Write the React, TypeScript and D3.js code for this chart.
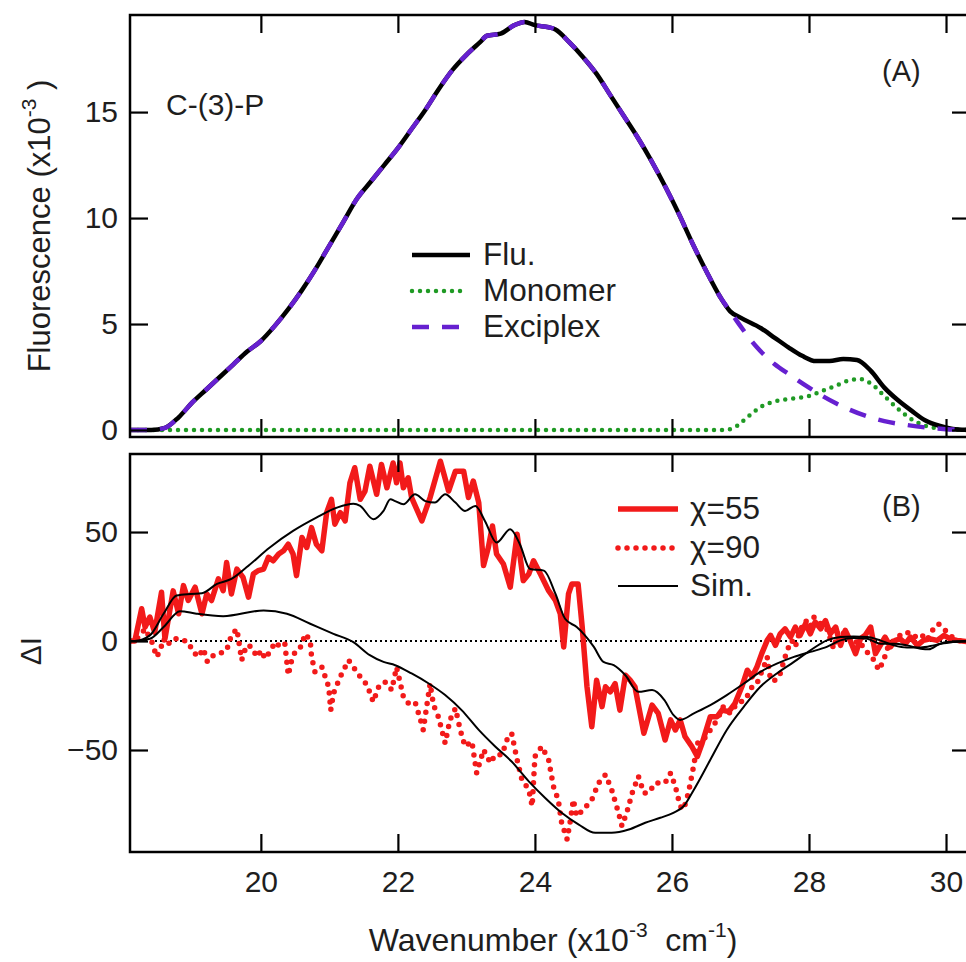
import React, { useRef, useEffect } from 'react';
import * as d3 from 'd3';

type Pt = [number, number];

// panel (A): fluorescence, x10^-3
const flu: Pt[] = [
  [18.09, 0], [18.4, 0], [18.6, 0.1], [18.8, 0.6], [19.0, 1.3], [19.2, 1.9], [19.4, 2.5], [19.6, 3.1],
  [19.8, 3.7], [20.0, 4.2], [20.2, 4.9], [20.4, 5.7], [20.6, 6.6], [20.8, 7.6], [21.0, 8.7], [21.2, 9.8],
  [21.4, 10.9], [21.6, 11.7], [21.8, 12.5], [22.0, 13.3], [22.2, 14.2], [22.4, 15.1], [22.6, 16.1],
  [22.8, 17.0], [23.0, 17.7], [23.2, 18.3], [23.3, 18.6], [23.5, 18.7], [23.7, 19.1], [23.85, 19.25],
  [24.0, 19.1], [24.2, 19.0], [24.3, 18.9], [24.5, 18.3], [24.7, 17.6], [24.9, 16.8], [25.1, 15.8],
  [25.3, 14.8], [25.5, 13.8], [25.7, 12.7], [25.9, 11.5], [26.1, 10.2], [26.3, 8.8], [26.5, 7.5],
  [26.7, 6.3], [26.85, 5.6], [27.0, 5.3], [27.3, 4.8], [27.5, 4.35], [27.7, 3.9], [27.9, 3.5],
  [28.1, 3.25], [28.3, 3.25], [28.5, 3.35], [28.7, 3.3], [28.9, 2.8], [29.1, 2.0], [29.3, 1.4],
  [29.5, 0.9], [29.7, 0.45], [29.9, 0.2], [30.1, 0.05], [30.35, 0],
];

const monomer: Pt[] = [
  [18.09, 0], [26.75, 0], [26.9, 0.1], [27.1, 0.6], [27.3, 1.1], [27.5, 1.35], [27.8, 1.5], [28.0, 1.6],
  [28.2, 1.85], [28.4, 2.1], [28.6, 2.35], [28.75, 2.4], [28.9, 2.2], [29.1, 1.6], [29.3, 1.0],
  [29.5, 0.5], [29.7, 0.2], [29.9, 0.08], [30.35, 0],
];

const exciplexTail: Pt[] = [
  [27.0, 4.9], [27.24, 3.9], [27.5, 3.1], [27.7, 2.65], [28.0, 2.0], [28.2, 1.6], [28.4, 1.25],
  [28.6, 0.95], [28.8, 0.7], [29.1, 0.42], [29.4, 0.25], [29.7, 0.12], [30.0, 0.04], [30.35, 0],
];
const exciplex: Pt[] = flu.filter((d) => d[0] <= 26.85).concat(exciplexTail);

// panel (B): delta I
const chi55: Pt[] = [
  [18.09, 0], [18.16, 0], [18.26, 14.8], [18.31, 6.4], [18.38, 11], [18.45, 4], [18.55, 22.4], [18.6, 1],
  [18.72, 23], [18.8, 12.5], [18.87, 25.4], [18.94, 18.6], [19.04, 24.7], [19.14, 12.5], [19.21, 21.6],
  [19.28, 18.6], [19.38, 28.5], [19.45, 23.1], [19.5, 36], [19.57, 21.6], [19.65, 33], [19.74, 29.2],
  [19.82, 20.1], [19.89, 30.7], [19.96, 32.3], [20.04, 33], [20.11, 38.4], [20.18, 36.8], [20.26, 39.9],
  [20.33, 41.4], [20.4, 44.4], [20.47, 39.9], [20.52, 30], [20.6, 47.5], [20.67, 42.9], [20.74, 52],
  [20.81, 44.4], [20.89, 41.4], [20.96, 58.9], [21.03, 65], [21.08, 53.6], [21.16, 58.9], [21.23, 55.1],
  [21.3, 72.6], [21.37, 79.5], [21.45, 65], [21.52, 68.8], [21.59, 80.2], [21.69, 67.3], [21.76, 81],
  [21.84, 70.3], [21.93, 81.7], [21.98, 72.6], [22.03, 81.7], [22.08, 70.3], [22.15, 74.9], [22.2, 65.8],
  [22.35, 55.1], [22.47, 65.8], [22.62, 82.5], [22.74, 68.8], [22.84, 77.9], [22.96, 77.9], [23.03, 65.8],
  [23.1, 73.4], [23.18, 63.5], [23.25, 34.6], [23.32, 42.9], [23.38, 52.8], [23.44, 39.9], [23.54, 35.3],
  [23.64, 24.7], [23.74, 49], [23.83, 27.7], [23.91, 30.7], [23.98, 36.8], [24.08, 30.7], [24.2, 23.1],
  [24.3, 18.6], [24.37, 12.5], [24.42, -2.7], [24.49, 21.6], [24.54, 26.2], [24.63, 26.2], [24.69, 6.4],
  [24.76, -21], [24.83, -39.3], [24.9, -18], [24.98, -30.1], [25.03, -21], [25.1, -23.3], [25.17, -19.5],
  [25.24, -31.7], [25.32, -15.7], [25.39, -18], [25.46, -21], [25.59, -42.3], [25.71, -29.4], [25.8, -33.2],
  [25.9, -45.4], [25.98, -36.2], [26.05, -40.8], [26.12, -36.2], [26.19, -43.8], [26.29, -48.4],
  [26.37, -53], [26.44, -46.9], [26.56, -34.7], [26.66, -34.7], [26.73, -31.7], [26.83, -32.4],
  [26.92, -28.6], [27.02, -21], [27.1, -13.4], [27.17, -16.4], [27.24, -11.9], [27.31, -5.8], [27.39, 0.3],
  [27.44, 2.6], [27.51, -2], [27.58, 3.3], [27.65, 5.6], [27.73, 1.8], [27.8, 6.4], [27.87, 2.6],
  [27.95, 7.9], [28.02, 3.3], [28.09, 8.7], [28.17, 5.6], [28.24, 9.4], [28.31, 3.3], [28.39, 6.4],
  [28.46, -2], [28.53, 4.9], [28.6, 0.3], [28.68, -5.8], [28.75, 1], [28.82, 2.6], [28.9, 6.4],
  [28.97, -5.8], [29.04, -2], [29.11, 1.8], [29.19, -2.7], [29.26, 0.3], [29.33, 1], [29.41, -1.2],
  [29.48, 1.8], [29.58, -2], [29.67, 0.3], [29.77, 1], [29.87, 0.3], [29.97, 2.6], [30.06, 1],
  [30.16, 0.3], [30.35, -0.5],
];

const chi90: Pt[] = [
  [18.09, 0], [18.16, 0], [18.24, 2.6], [18.31, 5.6], [18.41, -0.5], [18.48, -7.3], [18.53, -4.3],
  [18.58, 1], [18.63, -2], [18.72, 1], [18.82, 1], [18.94, -0.5], [19.01, -5], [19.09, -7.3], [19.16, -3.5],
  [19.22, -9.6], [19.31, -6.5], [19.4, -5.8], [19.5, -4.3], [19.57, 2.6], [19.65, 5.6], [19.72, -8.8],
  [19.79, -2], [19.87, -2.7], [19.94, -7.3], [20.01, -4.3], [20.06, -8.1], [20.13, -5], [20.21, -0.5],
  [20.28, -2.7], [20.35, -1.2], [20.4, -15.7], [20.45, -8.8], [20.5, -5], [20.57, -3.5], [20.65, 3.3],
  [20.72, 0.3], [20.74, -7.3], [20.79, -14.2], [20.89, -11.9], [20.99, -21], [21.02, -31.7], [21.06, -24],
  [21.16, -16.4], [21.28, -8.8], [21.35, -11.9], [21.45, -16.4], [21.55, -20.2], [21.64, -27.9],
  [21.72, -21], [21.81, -18.7], [21.91, -22.5], [21.98, -12], [22.03, -18.7], [22.08, -25.6],
  [22.15, -28.5], [22.25, -27.9], [22.33, -36.2], [22.37, -40.8], [22.42, -30.1], [22.47, -19.5],
  [22.52, -29.4], [22.59, -34.7], [22.69, -46.9], [22.76, -36.2], [22.84, -30.9], [22.91, -40.8],
  [22.98, -48.4], [23.08, -46.1], [23.15, -60.6], [23.25, -49.9], [23.35, -56], [23.42, -52.2],
  [23.52, -52.2], [23.59, -45.4], [23.66, -42.3], [23.74, -54.5], [23.81, -63.6], [23.91, -68.2],
  [23.96, -75.8], [24.0, -53], [24.1, -48.4], [24.2, -54.5], [24.27, -66.7], [24.34, -72.8],
  [24.39, -83.4], [24.47, -91], [24.52, -81.9], [24.56, -72.8], [24.61, -80.4], [24.71, -77.3],
  [24.83, -72.8], [24.93, -65.1], [25.03, -61.3], [25.12, -68.2], [25.22, -78.8], [25.27, -84.9],
  [25.34, -78.8], [25.42, -69.7], [25.51, -62.1], [25.59, -69.7], [25.66, -69.7], [25.76, -65.1],
  [25.9, -65.1], [25.98, -60.6], [26.05, -66.7], [26.12, -75.8], [26.17, -77.3], [26.24, -69.7],
  [26.32, -56.8], [26.37, -46.9], [26.46, -45.4], [26.56, -40.8], [26.66, -36.2], [26.75, -30.1],
  [26.85, -33.2], [26.95, -28.6], [27.07, -27.1], [27.17, -21], [27.24, -19.5], [27.34, -11.9],
  [27.39, -7.3], [27.44, -18], [27.51, -18], [27.58, -14.9], [27.68, -4.3], [27.75, 0.3], [27.8, -2.7],
  [27.87, 4.9], [27.95, 9.4], [28.02, 6.4], [28.07, 11], [28.17, 7.9], [28.26, 5.6], [28.36, -3.5],
  [28.43, 4.9], [28.53, 3.3], [28.65, -1.2], [28.73, 0.3], [28.82, -4.3], [28.92, -7.3], [29.02, -13.4],
  [29.09, -8.8], [29.16, -2], [29.24, 0.3], [29.33, 2.6], [29.43, 4.1], [29.53, 1.8], [29.63, 3.3],
  [29.72, 0.3], [29.8, 4.9], [29.89, 7.9], [29.99, 4.9], [30.06, 2.6], [30.16, 0.3], [30.35, -0.5],
];

const sim55: Pt[] = [
  [18.09, 0], [18.16, 0], [18.38, 2.6], [18.58, 12.5], [18.77, 20.9], [18.97, 21.6], [19.14, 21.9],
  [19.36, 26.2], [19.57, 28.5], [19.79, 33.8], [20.13, 42.9], [20.47, 50.5], [20.81, 56.6], [21.11, 61.2],
  [21.35, 63], [21.45, 62], [21.64, 55.9], [21.79, 59.7], [21.89, 65], [21.96, 64.2], [22.08, 62.7],
  [22.25, 67.3], [22.4, 64.2], [22.54, 63.5], [22.69, 67.3], [22.84, 63.5], [22.98, 59.7], [23.13, 62],
  [23.27, 55.1], [23.44, 45.2], [23.64, 51.3], [23.78, 44.4], [23.93, 33], [24.13, 32.3], [24.3, 21.6],
  [24.44, 10.2], [24.61, 6.4], [24.73, 2.6], [24.86, -2.7], [25.0, -9.6], [25.15, -11.1], [25.32, -15.7],
  [25.51, -23.3], [25.71, -22.5], [25.89, -27.1], [26.02, -33.9], [26.12, -36.2], [26.32, -33.2],
  [26.56, -29.4], [26.8, -24.8], [27.05, -19.5], [27.29, -14.2], [27.53, -10.4], [27.78, -7.3],
  [28.02, -5], [28.26, -2.7], [28.46, 0.3], [28.65, 1.4], [28.85, 1], [29.04, -1.2], [29.24, -1.2],
  [29.43, -2], [29.63, -3.5], [29.75, -3.8], [29.9, -1.5], [30.1, -0.5], [30.35, 0],
];

const sim90: Pt[] = [
  [18.09, 0], [18.16, 0], [18.38, 1], [18.58, 6.4], [18.82, 13.7], [19.06, 12.5], [19.45, 11.4],
  [20.04, 14], [20.38, 12.5], [20.72, 7.9], [21.06, 3.3], [21.35, -0.5], [21.59, -6.5], [21.79, -9.6],
  [21.96, -11.1], [22.2, -14.9], [22.45, -19.5], [22.69, -24.8], [22.93, -31.7], [23.18, -40.8],
  [23.42, -48.4], [23.66, -55.3], [23.91, -64.4], [24.15, -72], [24.39, -78.8], [24.64, -84.2],
  [24.88, -88], [25.12, -88], [25.37, -86.5], [25.61, -83.4], [25.83, -81.1], [26.02, -78.8],
  [26.17, -75.8], [26.32, -68.2], [26.56, -54.5], [26.8, -40.8], [27.05, -30.1], [27.29, -21],
  [27.53, -14.9], [27.78, -9.6], [28.02, -4.3], [28.26, 0.3], [28.46, 1.8], [28.65, 2.1], [28.85, 1.8],
  [29.04, 0.3], [29.24, -2], [29.43, -3], [29.63, -3], [29.82, -2], [30.02, -0.5], [30.35, 0],
];

const xTicks = [20, 22, 24, 26, 28, 30];
const yTicksA = [0, 5, 10, 15];
const yTicksB = [-50, 0, 50];

const FONT = "'Liberation Sans', Arial, Helvetica, sans-serif";
const INK = '#1e1e1e';
const RED = '#f21a1a';
const GREEN = '#1f9a24';
const PURPLE = '#6620d0';

const App = () => {
  const ref = useRef<SVGSVGElement>(null);

  useEffect(() => {
    const svg = d3.select(ref.current);
    svg.selectAll('*').remove();

    const left = 130;
    const right = 970;
    const A = { top: 15, bottom: 437 };
    const B = { top: 454, bottom: 852 };

    const x = d3.scaleLinear().domain([18.09, 30.35]).range([left, right]);
    const yA = d3.scaleLinear().domain([-0.33, 19.58]).range([A.bottom, A.top]);
    const yB = d3.scaleLinear().domain([-96.8, 85.8]).range([B.bottom, B.top]);

    const defs = svg.append('defs');
    defs.append('clipPath').attr('id', 'clipA').append('rect')
      .attr('x', left).attr('y', A.top).attr('width', right - left).attr('height', A.bottom - A.top);
    defs.append('clipPath').attr('id', 'clipB').append('rect')
      .attr('x', left).attr('y', B.top).attr('width', right - left).attr('height', B.bottom - B.top);

    const smoothA = d3.line<Pt>().x((d) => x(d[0])).y((d) => yA(d[1])).curve(d3.curveMonotoneX);
    const smoothB = d3.line<Pt>().x((d) => x(d[0])).y((d) => yB(d[1])).curve(d3.curveMonotoneX);
    const rawB = d3.line<Pt>().x((d) => x(d[0])).y((d) => yB(d[1]));

    // ---- panel A
    const gA = svg.append('g').attr('clip-path', 'url(#clipA)');
    gA.append('path').attr('d', smoothA(monomer)).attr('fill', 'none').attr('stroke', GREEN)
      .attr('stroke-width', 4.5).attr('stroke-linecap', 'round').attr('stroke-dasharray', '0 8');
    gA.append('path').attr('d', smoothA(flu)).attr('fill', 'none').attr('stroke', '#000')
      .attr('stroke-width', 4.5);
    gA.append('path').attr('d', smoothA(exciplex)).attr('fill', 'none').attr('stroke', PURPLE)
      .attr('stroke-width', 4.5).attr('stroke-dasharray', '17 13');

    // ---- panel B
    const gB = svg.append('g').attr('clip-path', 'url(#clipB)');
    gB.append('line').attr('x1', left).attr('x2', right).attr('y1', yB(0)).attr('y2', yB(0))
      .attr('stroke', '#000').attr('stroke-width', 2).attr('stroke-dasharray', '2 3');
    gB.append('path').attr('d', rawB(chi90)).attr('fill', 'none').attr('stroke', RED)
      .attr('stroke-width', 5.5).attr('stroke-linecap', 'round').attr('stroke-dasharray', '0 9');
    gB.append('path').attr('d', rawB(chi55)).attr('fill', 'none').attr('stroke', RED)
      .attr('stroke-width', 5.5).attr('stroke-linejoin', 'round');
    [sim55, sim90].forEach((s) => {
      gB.append('path').attr('d', smoothB(s)).attr('fill', 'none').attr('stroke', '#000')
        .attr('stroke-width', 2);
    });

    // ---- axes, inward ticks on all four sides
    const styleAxis = (g: d3.Selection<SVGGElement, unknown, null, undefined>) => {
      g.select('.domain').remove();
      g.selectAll('line').attr('stroke', '#000').attr('stroke-width', 2.2);
      g.selectAll('text').attr('font-family', FONT).attr('font-size', 30).attr('fill', INK);
    };
    const panels = [
      { y: yA, p: A, ticks: yTicksA },
      { y: yB, p: B, ticks: yTicksB },
    ];
    panels.forEach(({ y, p, ticks }, i) => {
      svg.append('g').attr('transform', `translate(${left},0)`)
        .call(d3.axisLeft(y).tickValues(ticks).tickSize(-18).tickPadding(12)).call(styleAxis);
      svg.append('g').attr('transform', `translate(${right},0)`)
        .call(d3.axisRight(y).tickValues(ticks).tickSize(-18).tickFormat(() => '')).call(styleAxis);
      svg.append('g').attr('transform', `translate(0,${p.top})`)
        .call(d3.axisTop(x).tickValues(xTicks).tickSize(-18).tickFormat(() => '')).call(styleAxis);
      const bottomAxis = d3.axisBottom(x).tickValues(xTicks).tickSize(-18).tickPadding(19);
      if (i === 0) bottomAxis.tickFormat(() => '');
      svg.append('g').attr('transform', `translate(0,${p.bottom})`).call(bottomAxis).call(styleAxis);
      svg.append('rect').attr('x', left).attr('y', p.top).attr('width', right - left)
        .attr('height', p.bottom - p.top).attr('fill', 'none').attr('stroke', '#000').attr('stroke-width', 2.5);
    });

    // ---- texts
    const txt = (tx: number, ty: number, s: string, size = 30) =>
      svg.append('text').attr('x', tx).attr('y', ty).attr('font-family', FONT).attr('font-size', size)
        .attr('fill', INK).text(s);

    txt(166, 115, 'C-(3)-P', 30);
    txt(882, 81, '(A)', 29);
    txt(882, 516, '(B)', 29);

    const yTitle = svg.append('text').attr('transform', 'translate(50,226) rotate(-90)')
      .attr('text-anchor', 'middle').attr('font-family', FONT).attr('font-size', 31).attr('fill', INK)
      .style('white-space', 'pre');
    yTitle.append('tspan').text('Fluorescence (x10');
    yTitle.append('tspan').attr('dy', -14).attr('font-size', 21).text('-3');
    yTitle.append('tspan').attr('dy', 14).text(' )');

    svg.append('text').attr('transform', 'translate(41,651) rotate(-90)')
      .attr('text-anchor', 'middle').attr('font-family', FONT).attr('font-size', 30).attr('fill', INK)
      .text('\u0394I');

    const xTitle = svg.append('text').attr('x', 553).attr('y', 951).attr('text-anchor', 'middle')
      .attr('font-family', FONT).attr('font-size', 32).attr('fill', INK).style('white-space', 'pre');
    xTitle.append('tspan').text('Wavenumber (x10');
    xTitle.append('tspan').attr('dy', -14).attr('font-size', 21).text('-3');
    xTitle.append('tspan').attr('dy', 14).text('  cm');
    xTitle.append('tspan').attr('dy', -14).attr('font-size', 21).text('-1');
    xTitle.append('tspan').attr('dy', 14).text(')');

    // ---- legends
    const legA = [
      { label: 'Flu.', color: '#000', dash: null as string | null, w: 4.5, cap: 'butt', y: 255, x2: 470 },
      { label: 'Monomer', color: GREEN, dash: '0 8', w: 4.5, cap: 'round', y: 291, x2: 466 },
      { label: 'Exciplex', color: PURPLE, dash: '17 13', w: 4.5, cap: 'butt', y: 327, x2: 459 },
    ];
    legA.forEach((d) => {
      const l = svg.append('line').attr('x1', 412).attr('x2', d.x2).attr('y1', d.y).attr('y2', d.y)
        .attr('stroke', d.color).attr('stroke-width', d.w).attr('stroke-linecap', d.cap);
      if (d.dash) l.attr('stroke-dasharray', d.dash);
      txt(483, d.y + 10, d.label, 31.5);
    });

    const legB = [
      { label: '\u03c7=55', dash: null as string | null, w: 5.5, color: RED, cap: 'butt', y: 509 },
      { label: '\u03c7=90', dash: '0 9', w: 5.5, color: RED, cap: 'round', y: 548 },
      { label: 'Sim.', dash: null as string | null, w: 2, color: '#000', cap: 'butt', y: 586 },
    ];
    legB.forEach((d) => {
      const l = svg.append('line').attr('x1', 618).attr('x2', 678).attr('y1', d.y).attr('y2', d.y)
        .attr('stroke', d.color).attr('stroke-width', d.w).attr('stroke-linecap', d.cap);
      if (d.dash) l.attr('stroke-dasharray', d.dash);
      txt(690, d.y + 10, d.label, 31.5);
    });
  }, []);

  return (
    <svg
      ref={ref}
      width={966}
      height={962}
      style={{ position: 'absolute', left: 0, top: 0, background: '#fff' }}
    />
  );
};

export default App;
